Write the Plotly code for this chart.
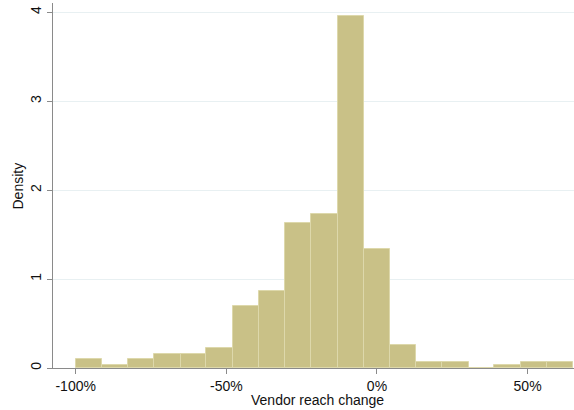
import plotly.graph_objects as go

# Histogram bin edges (vendor reach change, as fraction)
bin_edges = [-1.000, -0.913, -0.826, -0.739, -0.652, -0.566, -0.479, -0.392,
             -0.305, -0.218, -0.131, -0.044, 0.043, 0.130, 0.217, 0.304,
             0.390, 0.477, 0.564, 0.651]
# Density per bin
density = [0.098, 0.030, 0.098, 0.160, 0.160, 0.225, 0.700, 0.862,
           1.629, 1.727, 3.958, 1.340, 0.258, 0.064, 0.064, 0.0,
           0.034, 0.064, 0.064]

x_tickvals = [-1.0, -0.5, 0.0, 0.5]
x_ticktext = ["-100%", "-50%", "0%", "50%"]
y_tickvals = [0, 1, 2, 3, 4]
x_title = "Vendor reach change"
y_title = "Density"

centers = [(a + b) / 2 for a, b in zip(bin_edges[:-1], bin_edges[1:])]
widths = [b - a for a, b in zip(bin_edges[:-1], bin_edges[1:])]

fig = go.Figure()
fig.add_trace(go.Bar(
    x=centers, y=density, width=widths,
    marker=dict(color="#c9c187", line=dict(color="#ddd8ab", width=1)),
    hoverinfo="skip",
))

font = dict(family="Liberation Sans, Arial, Helvetica, sans-serif", size=14, color="#111111")

fig.update_layout(
    width=574, height=410,
    margin=dict(l=53, r=0, t=3, b=42, autoexpand=False),
    plot_bgcolor="white", paper_bgcolor="white",
    showlegend=False, bargap=0,
    font=font,
    xaxis=dict(
        range=[-1.0753, 0.654],
        tickvals=x_tickvals, ticktext=x_ticktext,
        ticks="outside", ticklen=5, tickcolor="#8a8a8a", tickwidth=1,
        showline=True, linecolor="#8a8a8a", linewidth=1,
        showgrid=False, zeroline=False, automargin=False,
        tickfont=dict(size=14),
    ),
    yaxis=dict(
        range=[0, 4.104],
        tickvals=y_tickvals,
        ticks="outside", ticklen=5, tickcolor="#8a8a8a", tickwidth=1,
        tickangle=-90,
        showline=True, linecolor="#8a8a8a", linewidth=1,
        showgrid=True, gridcolor="#e8f0f2", gridwidth=1,
        zeroline=False, automargin=False,
        tickfont=dict(size=14),
    ),
    annotations=[
        dict(text=x_title, xref="paper", yref="paper", x=0.5086, y=0,
             xanchor="center", yanchor="middle", yshift=-32, showarrow=False,
             font=dict(size=14)),
        dict(text=y_title, xref="paper", yref="paper", x=-0.0672, y=0.5,
             xanchor="center", yanchor="middle", textangle=-90, showarrow=False,
             font=dict(size=14)),
    ],
)

fig.write_html(
    "out.html",
    config={"displayModeBar": False},
    post_script="document.body.style.margin='0';document.body.style.overflow='hidden';",
)
